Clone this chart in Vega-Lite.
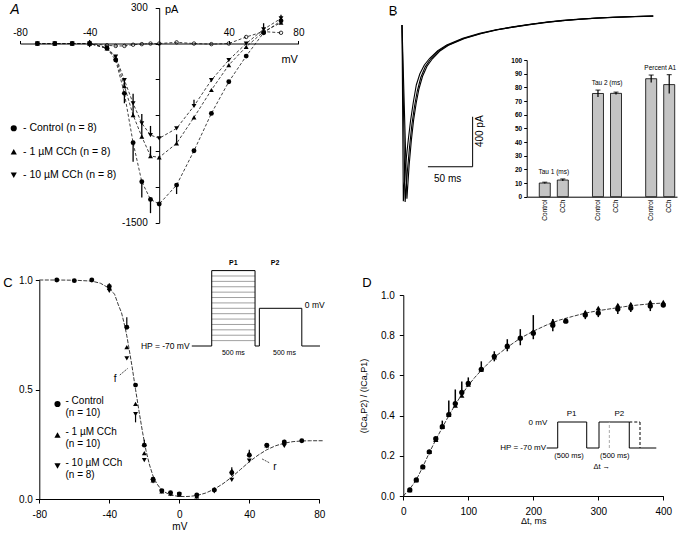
{
"$schema": "https://vega.github.io/schema/vega-lite/v6.json",
"width": 690, "height": 535, "padding": 0,
"autosize": {"type": "none"},
"background": "white",
"config": {
  "view": {"stroke": null},
  "font": "Liberation Sans",
  "axis": {"labelFont": "Liberation Sans", "titleFont": "Liberation Sans", "labelColor": "black", "titleColor": "black", "domainColor": "black", "tickColor": "black", "grid": false, "labelFontSize": 10, "titleFontSize": 10, "titleFontWeight": "normal", "labelFlush": false, "labelOverlap": false, "domainWidth": 1, "tickWidth": 1, "tickSize": 4, "labelPadding": 2},
  "legend": {"padding": 0, "labelFont": "Liberation Sans", "labelColor": "black", "labelFontSize": 10},
  "text": {"font": "Liberation Sans", "color": "black", "fontSize": 9}
},
"datasets": {
  "A": [
    {"s":"Control","mV":-70,"pA":0},{"s":"Control","mV":-60,"pA":0},{"s":"Control","mV":-50,"pA":0},{"s":"Control","mV":-40,"pA":0},{"s":"Control","mV":-30,"pA":-40},{"s":"Control","mV":-25,"pA":-138},{"s":"Control","mV":-20,"pA":-417},{"s":"Control","mV":-15,"pA":-830},{"s":"Control","mV":-10,"pA":-1157},{"s":"Control","mV":-5,"pA":-1305},{"s":"Control","mV":0,"pA":-1344},{"s":"Control","mV":10,"pA":-1185},{"s":"Control","mV":20,"pA":-898},{"s":"Control","mV":30,"pA":-585},{"s":"Control","mV":40,"pA":-320},{"s":"Control","mV":50,"pA":-105},{"s":"Control","mV":60,"pA":90},{"s":"Control","mV":70,"pA":190},
    {"s":"1 µM CCh","mV":-70,"pA":0},{"s":"1 µM CCh","mV":-60,"pA":0},{"s":"1 µM CCh","mV":-50,"pA":0},{"s":"1 µM CCh","mV":-40,"pA":0},{"s":"1 µM CCh","mV":-30,"pA":-40},{"s":"1 µM CCh","mV":-25,"pA":-120},{"s":"1 µM CCh","mV":-20,"pA":-356},{"s":"1 µM CCh","mV":-15,"pA":-599},{"s":"1 µM CCh","mV":-10,"pA":-780},{"s":"1 µM CCh","mV":-5,"pA":-942},{"s":"1 µM CCh","mV":0,"pA":-953},{"s":"1 µM CCh","mV":10,"pA":-836},{"s":"1 µM CCh","mV":20,"pA":-618},{"s":"1 µM CCh","mV":30,"pA":-389},{"s":"1 µM CCh","mV":40,"pA":-180},{"s":"1 µM CCh","mV":50,"pA":-27},{"s":"1 µM CCh","mV":60,"pA":99},{"s":"1 µM CCh","mV":70,"pA":175},
    {"s":"10 µM CCh","mV":-70,"pA":0},{"s":"10 µM CCh","mV":-60,"pA":0},{"s":"10 µM CCh","mV":-50,"pA":0},{"s":"10 µM CCh","mV":-40,"pA":0},{"s":"10 µM CCh","mV":-30,"pA":-35},{"s":"10 µM CCh","mV":-25,"pA":-110},{"s":"10 µM CCh","mV":-20,"pA":-306},{"s":"10 µM CCh","mV":-15,"pA":-501},{"s":"10 µM CCh","mV":-10,"pA":-668},{"s":"10 µM CCh","mV":-5,"pA":-766},{"s":"10 µM CCh","mV":0,"pA":-794},{"s":"10 µM CCh","mV":10,"pA":-710},{"s":"10 µM CCh","mV":20,"pA":-523},{"s":"10 µM CCh","mV":30,"pA":-306},{"s":"10 µM CCh","mV":40,"pA":-138},{"s":"10 µM CCh","mV":50,"pA":0},{"s":"10 µM CCh","mV":60,"pA":119},{"s":"10 µM CCh","mV":70,"pA":210}
  ],
  "Aopen": [
    {"mV":-40,"pA":0},{"mV":-30,"pA":-15},{"mV":-25,"pA":-20},{"mV":-20,"pA":-20},{"mV":-15,"pA":-10},{"mV":-10,"pA":-5},{"mV":-5,"pA":0},{"mV":0,"pA":0},{"mV":10,"pA":10},{"mV":20,"pA":0},{"mV":30,"pA":-5},{"mV":40,"pA":0},{"mV":50,"pA":55},{"mV":60,"pA":100},{"mV":70,"pA":90}
  ],
  "Aerr": [
    {"mV":-40,"lo":-30,"hi":30},{"mV":-20,"lo":-417,"hi":-500},{"mV":-15,"lo":-830,"hi":-990},{"mV":-10,"lo":-1157,"hi":-1290},{"mV":-5,"lo":-1305,"hi":-1420},{"mV":10,"lo":-1185,"hi":-1260},
    {"mV":-20,"lo":-356,"hi":-290},{"mV":-15,"lo":-599,"hi":-500},{"mV":-10,"lo":-780,"hi":-660},{"mV":-5,"lo":-942,"hi":-860},{"mV":10,"lo":-836,"hi":-760},
    {"mV":-15,"lo":-501,"hi":-420},{"mV":-10,"lo":-668,"hi":-590},{"mV":-5,"lo":-766,"hi":-690},{"mV":20,"lo":-523,"hi":-470},{"mV":60,"lo":119,"hi":170},{"mV":70,"lo":210,"hi":240}
  ],
  "Btr": [
    {"tr":"a","t":0,"I":-80},{"tr":"a","t":1.5,"I":-1490},{"tr":"a","t":4,"I":-1200},{"tr":"a","t":7,"I":-1000},{"tr":"a","t":9.5,"I":-850},{"tr":"a","t":12.6,"I":-700},{"tr":"a","t":16,"I":-560},{"tr":"a","t":20,"I":-470},{"tr":"a","t":25,"I":-400},{"tr":"a","t":31,"I":-346},{"tr":"a","t":40,"I":-285},{"tr":"a","t":50,"I":-240},{"tr":"a","t":68,"I":-186},{"tr":"a","t":87,"I":-146},{"tr":"a","t":105,"I":-118},{"tr":"a","t":124,"I":-94},{"tr":"a","t":143,"I":-74},{"tr":"a","t":162,"I":-56},{"tr":"a","t":180,"I":-43},{"tr":"a","t":199,"I":-32},{"tr":"a","t":218,"I":-24},{"tr":"a","t":236,"I":-18},{"tr":"a","t":260,"I":-12},{"tr":"a","t":281,"I":-8},
    {"tr":"b","t":0,"I":-80},{"tr":"b","t":3.5,"I":-1495},{"tr":"b","t":6,"I":-1250},{"tr":"b","t":8.5,"I":-1050},{"tr":"b","t":11,"I":-880},{"tr":"b","t":14,"I":-730},{"tr":"b","t":17,"I":-610},{"tr":"b","t":21,"I":-500},{"tr":"b","t":26,"I":-415},{"tr":"b","t":32,"I":-352},{"tr":"b","t":40,"I":-292},{"tr":"b","t":50,"I":-245},{"tr":"b","t":68,"I":-190},{"tr":"b","t":87,"I":-150},{"tr":"b","t":105,"I":-120},{"tr":"b","t":124,"I":-97},{"tr":"b","t":143,"I":-76},{"tr":"b","t":162,"I":-58},{"tr":"b","t":180,"I":-45},{"tr":"b","t":199,"I":-34},{"tr":"b","t":218,"I":-25},{"tr":"b","t":236,"I":-19},{"tr":"b","t":260,"I":-13},{"tr":"b","t":281,"I":-9},
    {"tr":"c","t":0,"I":-80},{"tr":"c","t":5.5,"I":-1470},{"tr":"c","t":8,"I":-1200},{"tr":"c","t":10.5,"I":-1000},{"tr":"c","t":13,"I":-840},{"tr":"c","t":16,"I":-700},{"tr":"c","t":19,"I":-590},{"tr":"c","t":23,"I":-490},{"tr":"c","t":28,"I":-410},{"tr":"c","t":34,"I":-350},{"tr":"c","t":42,"I":-290},{"tr":"c","t":52,"I":-242},{"tr":"c","t":70,"I":-188},{"tr":"c","t":89,"I":-148},{"tr":"c","t":107,"I":-118},{"tr":"c","t":126,"I":-95},{"tr":"c","t":145,"I":-75},{"tr":"c","t":164,"I":-57},{"tr":"c","t":182,"I":-44},{"tr":"c","t":201,"I":-33},{"tr":"c","t":220,"I":-24},{"tr":"c","t":238,"I":-18},{"tr":"c","t":262,"I":-12},{"tr":"c","t":281,"I":-8},
    {"tr":"base","t":-13,"I":0},{"tr":"base","t":-8,"I":0}
  ],
  "Bbar": [
    {"g":"Tau 1 (ms)","c":"Control","m":10,"lo":9.6,"hi":10.6},
    {"g":"Tau 1 (ms)","c":"CCh","m":12.2,"lo":11.5,"hi":13},
    {"g":"Tau 2 (ms)","c":"Control","m":75.5,"lo":73,"hi":78},
    {"g":"Tau 2 (ms)","c":"CCh","m":75.6,"lo":74.7,"hi":76.5},
    {"g":"Percent A1","c":"Control","m":86.3,"lo":83.5,"hi":89},
    {"g":"Percent A1","c":"CCh","m":82,"lo":75.5,"hi":89.3}
  ],
  "C": [
    {"s":"Control","mV":-70,"v":1.0},{"s":"Control","mV":-60,"v":0.997},{"s":"Control","mV":-50,"v":1.0},{"s":"Control","mV":-40,"v":0.97},{"s":"Control","mV":-30,"v":0.784},{"s":"Control","mV":-25,"v":0.52},{"s":"Control","mV":-20,"v":0.246},{"s":"Control","mV":-15,"v":0.09},{"s":"Control","mV":-10,"v":0.038},{"s":"Control","mV":-5,"v":0.029},{"s":"Control","mV":0,"v":0.023},{"s":"Control","mV":10,"v":0.018},{"s":"Control","mV":20,"v":0.041},{"s":"Control","mV":30,"v":0.12},{"s":"Control","mV":40,"v":0.2},{"s":"Control","mV":50,"v":0.246},{"s":"Control","mV":60,"v":0.26},{"s":"Control","mV":70,"v":0.266},
    {"s":"1 µM CCh","mV":-40,"v":0.965},{"s":"1 µM CCh","mV":-30,"v":0.693},{"s":"1 µM CCh","mV":-25,"v":0.434},{"s":"1 µM CCh","mV":-20,"v":0.21},{"s":"1 µM CCh","mV":-15,"v":0.085},{"s":"1 µM CCh","mV":-10,"v":0.035},{"s":"1 µM CCh","mV":-5,"v":0.025},{"s":"1 µM CCh","mV":0,"v":0.02},{"s":"1 µM CCh","mV":10,"v":0.012},{"s":"1 µM CCh","mV":20,"v":0.045},{"s":"1 µM CCh","mV":30,"v":0.13},{"s":"1 µM CCh","mV":40,"v":0.21},{"s":"1 µM CCh","mV":50,"v":0.245},{"s":"1 µM CCh","mV":60,"v":0.262},
    {"s":"10 µM CCh","mV":-40,"v":0.95},{"s":"10 µM CCh","mV":-30,"v":0.642},{"s":"10 µM CCh","mV":-25,"v":0.388},{"s":"10 µM CCh","mV":-20,"v":0.178},{"s":"10 µM CCh","mV":-15,"v":0.08},{"s":"10 µM CCh","mV":-10,"v":0.035},{"s":"10 µM CCh","mV":-5,"v":0.022},{"s":"10 µM CCh","mV":0,"v":0.02},{"s":"10 µM CCh","mV":10,"v":0.01},{"s":"10 µM CCh","mV":20,"v":0.035},{"s":"10 µM CCh","mV":30,"v":0.087},{"s":"10 µM CCh","mV":40,"v":0.175},{"s":"10 µM CCh","mV":50,"v":0.24},{"s":"10 µM CCh","mV":60,"v":0.242}
  ],
  "Cfit": [
    {"mV":-80,"v":1.0},{"mV":-70,"v":1.0},{"mV":-60,"v":0.999},{"mV":-50,"v":0.995},{"mV":-45,"v":0.985},{"mV":-40,"v":0.962},{"mV":-37,"v":0.935},{"mV":-35,"v":0.89},{"mV":-33,"v":0.85},{"mV":-31,"v":0.785},{"mV":-30,"v":0.745},{"mV":-29,"v":0.7},{"mV":-27,"v":0.605},{"mV":-25,"v":0.5},{"mV":-23,"v":0.4},{"mV":-21,"v":0.305},{"mV":-19,"v":0.22},{"mV":-17,"v":0.155},{"mV":-15,"v":0.105},{"mV":-13,"v":0.072},{"mV":-11,"v":0.05},{"mV":-9,"v":0.035},{"mV":-7,"v":0.026},{"mV":-5,"v":0.02},{"mV":-2,"v":0.014},{"mV":0,"v":0.012},{"mV":3,"v":0.011},{"mV":6,"v":0.012},{"mV":10,"v":0.016},{"mV":15,"v":0.027},{"mV":20,"v":0.045},{"mV":25,"v":0.07},{"mV":30,"v":0.1},{"mV":35,"v":0.135},{"mV":40,"v":0.17},{"mV":45,"v":0.2},{"mV":50,"v":0.225},{"mV":55,"v":0.243},{"mV":60,"v":0.255},{"mV":65,"v":0.262},{"mV":70,"v":0.265},{"mV":75,"v":0.266},{"mV":82,"v":0.266}
  ],
  "Cerr": [
    {"mV":-40,"lo":0.97,"hi":0.985},{"mV":-30,"lo":0.784,"hi":0.83},{"mV":-25,"lo":0.388,"hi":0.35},{"mV":-20,"lo":0.246,"hi":0.27},{"mV":30,"lo":0.105,"hi":0.145},{"mV":40,"lo":0.195,"hi":0.225},{"mV":60,"lo":0.242,"hi":0.255}
  ],
  "Cp": [
    {"k":"step","t1":0,"v1":-60,"t2":500,"v2":-60},{"k":"step","t1":0,"v1":-50,"t2":500,"v2":-50},{"k":"step","t1":0,"v1":-40,"t2":500,"v2":-40},{"k":"step","t1":0,"v1":-30,"t2":500,"v2":-30},{"k":"step","t1":0,"v1":-20,"t2":500,"v2":-20},{"k":"step","t1":0,"v1":-10,"t2":500,"v2":-10},{"k":"step","t1":0,"v1":0,"t2":500,"v2":0},{"k":"step","t1":0,"v1":10,"t2":500,"v2":10},{"k":"step","t1":0,"v1":20,"t2":500,"v2":20},{"k":"step","t1":0,"v1":30,"t2":500,"v2":30},{"k":"step","t1":0,"v1":40,"t2":500,"v2":40},{"k":"step","t1":0,"v1":50,"t2":500,"v2":50},{"k":"step","t1":0,"v1":60,"t2":500,"v2":60},
    {"k":"frame","t1":-230,"v1":-70,"t2":0,"v2":-70},{"k":"frame","t1":0,"v1":-70,"t2":0,"v2":70},{"k":"frame","t1":0,"v1":70,"t2":500,"v2":70},{"k":"frame","t1":500,"v1":70,"t2":500,"v2":-70},{"k":"frame","t1":500,"v1":-70,"t2":550,"v2":-70},{"k":"frame","t1":550,"v1":-70,"t2":550,"v2":0},{"k":"frame","t1":550,"v1":0,"t2":1040,"v2":0},{"k":"frame","t1":1040,"v1":0,"t2":1040,"v2":-70},{"k":"frame","t1":1040,"v1":-70,"t2":1250,"v2":-70}
  ],
  "D": [
    {"s":"Control","t":10,"v":0.03},{"s":"Control","t":20,"v":0.08},{"s":"Control","t":30,"v":0.145},{"s":"Control","t":40,"v":0.22},{"s":"Control","t":50,"v":0.285},{"s":"Control","t":60,"v":0.345},{"s":"Control","t":70,"v":0.405},{"s":"Control","t":80,"v":0.46},{"s":"Control","t":90,"v":0.515},{"s":"Control","t":100,"v":0.56},{"s":"Control","t":120,"v":0.63},{"s":"Control","t":140,"v":0.695},{"s":"Control","t":160,"v":0.745},{"s":"Control","t":180,"v":0.785},{"s":"Control","t":200,"v":0.81},{"s":"Control","t":230,"v":0.85},{"s":"Control","t":250,"v":0.87},{"s":"Control","t":280,"v":0.9},{"s":"Control","t":300,"v":0.91},{"s":"Control","t":330,"v":0.93},{"s":"Control","t":350,"v":0.935},{"s":"Control","t":380,"v":0.945},{"s":"Control","t":400,"v":0.95},
    {"s":"CCh","t":10,"v":0.03},{"s":"CCh","t":20,"v":0.08},{"s":"CCh","t":30,"v":0.145},{"s":"CCh","t":40,"v":0.22},{"s":"CCh","t":50,"v":0.28},{"s":"CCh","t":60,"v":0.345},{"s":"CCh","t":70,"v":0.405},{"s":"CCh","t":80,"v":0.45},{"s":"CCh","t":90,"v":0.5},{"s":"CCh","t":100,"v":0.555},{"s":"CCh","t":120,"v":0.63},{"s":"CCh","t":140,"v":0.69},{"s":"CCh","t":160,"v":0.745},{"s":"CCh","t":180,"v":0.79},{"s":"CCh","t":200,"v":0.82},{"s":"CCh","t":230,"v":0.87},{"s":"CCh","t":250,"v":0.875},{"s":"CCh","t":280,"v":0.915},{"s":"CCh","t":300,"v":0.935},{"s":"CCh","t":330,"v":0.95},{"s":"CCh","t":350,"v":0.955},{"s":"CCh","t":380,"v":0.965},{"s":"CCh","t":400,"v":0.965}
  ],
  "Dfit": [
    {"t":0,"v":0},{"t":10,"v":0.035},{"t":20,"v":0.08},{"t":30,"v":0.145},{"t":40,"v":0.215},{"t":50,"v":0.28},{"t":60,"v":0.34},{"t":70,"v":0.4},{"t":80,"v":0.455},{"t":90,"v":0.505},{"t":100,"v":0.55},{"t":110,"v":0.59},{"t":120,"v":0.625},{"t":140,"v":0.69},{"t":160,"v":0.74},{"t":180,"v":0.785},{"t":200,"v":0.82},{"t":220,"v":0.85},{"t":240,"v":0.875},{"t":260,"v":0.893},{"t":280,"v":0.91},{"t":300,"v":0.922},{"t":320,"v":0.932},{"t":340,"v":0.942},{"t":360,"v":0.95},{"t":380,"v":0.956},{"t":400,"v":0.96}
  ],
  "Derr": [
    {"t":60,"lo":0.345,"hi":0.375},{"t":70,"lo":0.405,"hi":0.475},{"t":80,"lo":0.46,"hi":0.53},{"t":90,"lo":0.515,"hi":0.57},{"t":100,"lo":0.56,"hi":0.59},{"t":120,"lo":0.63,"hi":0.67},{"t":140,"lo":0.67,"hi":0.72},{"t":160,"lo":0.72,"hi":0.78},{"t":180,"lo":0.75,"hi":0.83},{"t":200,"lo":0.78,"hi":0.9},{"t":230,"lo":0.82,"hi":0.88},{"t":280,"lo":0.88,"hi":0.92},{"t":300,"lo":0.89,"hi":0.935},{"t":330,"lo":0.905,"hi":0.955},{"t":350,"lo":0.915,"hi":0.96},{"t":380,"lo":0.92,"hi":0.97}
  ],
  "Dp": [
    {"k":"frame","t1":-190,"v1":-70,"t2":0,"v2":-70},{"k":"frame","t1":0,"v1":-70,"t2":0,"v2":0},{"k":"frame","t1":0,"v1":0,"t2":500,"v2":0},{"k":"frame","t1":500,"v1":0,"t2":500,"v2":-70},{"k":"frame","t1":500,"v1":-70,"t2":712,"v2":-70},{"k":"frame","t1":712,"v1":-70,"t2":712,"v2":0},{"k":"frame","t1":712,"v1":0,"t2":1234,"v2":0},{"k":"frame","t1":1234,"v1":0,"t2":1234,"v2":-70},{"k":"frame","t1":1234,"v1":-70,"t2":1700,"v2":-70},
    {"k":"dash","t1":1234,"v1":0,"t2":1419,"v2":0},{"k":"dash","t1":1419,"v1":0,"t2":1419,"v2":-70},
    {"k":"gray","t1":890,"v1":-70,"t2":890,"v2":0}
  ]
},
"resolve": {
  "scale": {"x": "independent", "y": "independent", "shape": "independent"},
  "axis": {"x": "independent", "y": "independent"},
  "legend": {"shape": "independent"}
},
"layer": [
  {
    "layer": [
      {"data": {"name": "A"},
       "mark": {"type": "line", "color": "#111", "strokeWidth": 0.8, "strokeDash": [3, 2]},
       "encoding": {
         "x": {"field": "mV", "type": "quantitative", "scale": {"domain": [-80, 80], "range": [20, 298.4], "nice": false, "zero": false},
               "axis": {"orient": "top", "offset": -43.5, "values": [-80, -40, 40, 80], "title": null, "tickSize": 3, "labelPadding": 3, "labelExpr": "replace(datum.label, '\u2212', '-')"}},
         "y": {"field": "pA", "type": "quantitative", "scale": {"domain": [-1500, 300], "range": [222.7, 7.7], "nice": false, "zero": false},
               "axis": {"orient": "left", "offset": -159.2, "values": [-1500, -1200, -900, -600, -300, 0, 300], "title": null, "tickSize": 4, "labelPadding": 8, "labelExpr": "datum.value == 300 ? '300' : (datum.value == -1500 ? '-1500' : '')"}},
         "detail": {"field": "s"}
       }},
      {"data": {"name": "Aopen"},
       "mark": {"type": "line", "color": "#111", "strokeWidth": 0.8, "strokeDash": [3, 2]},
       "encoding": {"x": {"field": "mV", "type": "quantitative"}, "y": {"field": "pA", "type": "quantitative"}}},
      {"data": {"name": "Aerr"},
       "mark": {"type": "rule", "color": "black", "strokeWidth": 1.3},
       "encoding": {"x": {"field": "mV", "type": "quantitative"}, "y": {"field": "lo", "type": "quantitative"}, "y2": {"field": "hi"}}},
      {"data": {"name": "Aopen"},
       "mark": {"type": "point", "shape": "circle", "filled": false, "stroke": "black", "strokeWidth": 0.8, "size": 12, "opacity": 1},
       "encoding": {"x": {"field": "mV", "type": "quantitative"}, "y": {"field": "pA", "type": "quantitative"}}},
      {"data": {"name": "A"},
       "mark": {"type": "point", "filled": true, "color": "black", "size": 24, "opacity": 1},
       "encoding": {
         "x": {"field": "mV", "type": "quantitative"},
         "y": {"field": "pA", "type": "quantitative"},
         "shape": {"field": "s", "type": "nominal", "scale": {"domain": ["Control", "1 µM CCh", "10 µM CCh"], "range": ["circle", "triangle-up", "triangle-down"]},
                   "legend": {"orient": "none", "legendX": 8.5, "legendY": 123, "title": null, "labelExpr": "'- ' + datum.label + ' (n = 8)'", "symbolSize": 38, "rowPadding": 12.5, "labelOffset": 4, "symbolFillColor": "black", "symbolStrokeColor": "black", "symbolStrokeWidth": 0, "labelFontSize": 10.5}}
       }},
      {"data": {"values": [{}]}, "mark": {"type": "text", "text": "A", "fontSize": 14, "fontStyle": "italic", "align": "center", "baseline": "middle"},
       "encoding": {"x": {"datum": -82.9}, "y": {"datum": 280}}},
      {"data": {"values": [{}]}, "mark": {"type": "text", "text": "pA", "fontSize": 11, "align": "left", "baseline": "middle"},
       "encoding": {"x": {"datum": 3.3}, "y": {"datum": 282}}},
      {"data": {"values": [{}]}, "mark": {"type": "text", "text": "mV", "fontSize": 11, "align": "center", "baseline": "middle"},
       "encoding": {"x": {"datum": 75}, "y": {"datum": -138}}}
    ]
  },
  {
    "layer": [
      {"data": {"name": "Btr"},
       "mark": {"type": "line", "color": "black", "strokeWidth": 1.1},
       "encoding": {
         "x": {"field": "t", "type": "quantitative", "scale": {"domain": [0, 300], "range": [402, 670.2], "nice": false, "zero": false}, "axis": null},
         "y": {"field": "I", "type": "quantitative", "scale": {"domain": [-1500, 0], "range": [202.5, 15], "nice": false, "zero": false}, "axis": null},
         "detail": {"field": "tr"}
       }},
      {"data": {"values": [{}]}, "mark": {"type": "rule", "color": "black", "strokeWidth": 1},
       "encoding": {"x": {"datum": 29, "axis": null}, "x2": {"datum": 79}, "y": {"datum": -1214, "axis": null}}},
      {"data": {"values": [{}]}, "mark": {"type": "rule", "color": "black", "strokeWidth": 1},
       "encoding": {"x": {"datum": 79, "axis": null}, "y": {"datum": -1214, "axis": null}, "y2": {"datum": -814}}},
      {"data": {"values": [{}]}, "mark": {"type": "text", "text": "50 ms", "fontSize": 10, "align": "center", "baseline": "middle"},
       "encoding": {"x": {"datum": 51, "axis": null}, "y": {"datum": -1310, "axis": null}}},
      {"data": {"values": [{}]}, "mark": {"type": "text", "text": "400 pA", "fontSize": 10, "align": "center", "baseline": "middle", "angle": 270},
       "encoding": {"x": {"datum": 87, "axis": null}, "y": {"datum": -930, "axis": null}}},
      {"data": {"values": [{}]}, "mark": {"type": "text", "text": "B", "fontSize": 13, "align": "center", "baseline": "middle"},
       "encoding": {"x": {"datum": -10, "axis": null}, "y": {"datum": 30, "axis": null}}}
    ]
  },
  {
    "layer": [
      {"data": {"name": "Bbar"},
       "mark": {"type": "bar", "width": 11, "fill": "#c4c4c4", "stroke": "black", "strokeWidth": 0.8},
       "encoding": {
         "x": {"field": "g", "type": "nominal", "sort": ["Tau 1 (ms)", "Tau 2 (ms)", "Percent A1"],
               "scale": {"domain": ["Tau 1 (ms)", "Tau 2 (ms)", "Percent A1"], "range": [526.7, 677], "paddingInner": 0.4, "paddingOuter": 0.1125, "align": 0.93},
               "axis": {"orient": "bottom", "offset": -338.3, "labels": false, "ticks": false, "title": null, "domain": true}},
         "xOffset": {"field": "c", "type": "nominal", "scale": {"domain": ["Control", "CCh"], "paddingInner": 0.23, "paddingOuter": 0}},
         "y": {"field": "m", "type": "quantitative", "scale": {"domain": [0, 100], "range": [196.7, 60], "nice": false, "zero": false},
               "axis": {"orient": "left", "offset": -526.7, "values": [0, 10, 20, 30, 40, 50, 60, 70, 80, 90, 100], "title": null, "labelFontSize": 6.5, "labelFontWeight": "bold", "tickSize": 3}}
       }},
      {"data": {"name": "Bbar"},
       "mark": {"type": "rule", "color": "black", "strokeWidth": 1.2},
       "encoding": {"x": {"field": "g", "type": "nominal"}, "xOffset": {"field": "c", "type": "nominal"}, "y": {"field": "lo", "type": "quantitative"}, "y2": {"field": "hi"}}},
      {"data": {"name": "Bbar"},
       "mark": {"type": "tick", "color": "black", "size": 5, "thickness": 1.2},
       "encoding": {"x": {"field": "g", "type": "nominal"}, "xOffset": {"field": "c", "type": "nominal"}, "y": {"field": "hi", "type": "quantitative"}}},
      {"data": {"name": "Bbar"},
       "mark": {"type": "text", "angle": 270, "align": "right", "baseline": "middle", "dx": -3, "fontSize": 6.5},
       "encoding": {"x": {"field": "g", "type": "nominal"}, "xOffset": {"field": "c", "type": "nominal"}, "y": {"datum": 0}, "text": {"field": "c"}}},
      {"data": {"name": "Bbar"},
       "transform": [{"aggregate": [{"op": "max", "field": "hi", "as": "top"}], "groupby": ["g"]}],
       "mark": {"type": "text", "baseline": "bottom", "align": "center", "dy": -4, "fontSize": 6.5},
       "encoding": {"x": {"field": "g", "type": "nominal"}, "y": {"field": "top", "type": "quantitative"}, "text": {"field": "g"}}}
    ]
  },
  {
    "layer": [
      {"data": {"name": "Cfit"},
       "mark": {"type": "line", "color": "#222", "strokeWidth": 0.9, "strokeDash": [4, 1.5]},
       "encoding": {
         "x": {"field": "mV", "type": "quantitative", "scale": {"domain": [-80, 80], "range": [39.3, 319.3], "nice": false, "zero": false},
               "axis": {"orient": "bottom", "offset": -36, "values": [-80, -40, 0, 40, 80], "title": "mV", "titlePadding": 2, "labelPadding": 6, "tickSize": 4, "labelExpr": "replace(datum.label, '\u2212', '-')"}},
         "y": {"field": "v", "type": "quantitative", "scale": {"domain": [0, 1], "range": [499, 280], "nice": false, "zero": false},
               "axis": {"orient": "left", "offset": -39.3, "values": [0, 0.5, 1], "format": ".1f", "title": null, "tickSize": 4, "labelPadding": 3}}
       }},
      {"data": {"name": "Cerr"},
       "mark": {"type": "rule", "color": "black", "strokeWidth": 1.2},
       "encoding": {"x": {"field": "mV", "type": "quantitative"}, "y": {"field": "lo", "type": "quantitative"}, "y2": {"field": "hi"}}},
      {"data": {"name": "C"},
       "mark": {"type": "point", "filled": true, "color": "black", "size": 24, "opacity": 1},
       "encoding": {
         "x": {"field": "mV", "type": "quantitative"},
         "y": {"field": "v", "type": "quantitative"},
         "shape": {"field": "s", "type": "nominal", "scale": {"domain": ["Control", "1 µM CCh", "10 µM CCh"], "range": ["circle", "triangle-up", "triangle-down"]},
                   "legend": {"orient": "none", "legendX": 52.5, "legendY": 399, "title": null,
                              "labelExpr": "datum.label == 'Control' ? ['- Control', '\u00a0\u00a0\u00a0\u00a0(n = 10)'] : (datum.label == '1 µM CCh' ? ['- 1 µM CCh', '\u00a0\u00a0\u00a0\u00a0(n = 10)'] : ['- 10 µM CCh', '\u00a0\u00a0\u00a0\u00a0(n = 8)'])",
                              "symbolSize": 38, "rowPadding": 9, "labelOffset": 3, "symbolFillColor": "black", "symbolStrokeColor": "black", "symbolStrokeWidth": 0, "labelFontSize": 10, "labelBaseline": "alphabetic"}}
       }},
      {"data": {"values": [{}]}, "mark": {"type": "text", "text": "C", "fontSize": 13, "align": "center", "baseline": "middle"},
       "encoding": {"x": {"datum": -97.9}, "y": {"datum": 0.986}}},
      {"data": {"values": [{}]}, "mark": {"type": "text", "text": "f", "fontSize": 10, "align": "center", "baseline": "middle"},
       "encoding": {"x": {"datum": -36.7}, "y": {"datum": 0.55}}},
      {"data": {"values": [{}]}, "mark": {"type": "rule", "color": "black", "strokeWidth": 0.7, "strokeDash": [2, 1]},
       "encoding": {"x": {"datum": -34}, "x2": {"datum": -29.5}, "y": {"datum": 0.566}, "y2": {"datum": 0.596}}},
      {"data": {"values": [{}]}, "mark": {"type": "text", "text": "r", "fontSize": 10, "align": "center", "baseline": "middle"},
       "encoding": {"x": {"datum": 54.7}, "y": {"datum": 0.146}}},
      {"data": {"values": [{}]}, "mark": {"type": "rule", "color": "black", "strokeWidth": 0.7, "strokeDash": [2, 1]},
       "encoding": {"x": {"datum": 47.3}, "x2": {"datum": 51.8}, "y": {"datum": 0.183}, "y2": {"datum": 0.164}}}
    ]
  },
  {
    "layer": [
      {"data": {"name": "Cp"}, "transform": [{"filter": "datum.k == 'step'"}],
       "mark": {"type": "rule", "color": "#888", "strokeWidth": 0.8},
       "encoding": {
         "x": {"field": "t1", "type": "quantitative", "scale": {"domain": [-230, 1250], "range": [191.8, 320], "nice": false, "zero": false}, "axis": null},
         "x2": {"field": "t2"},
         "y": {"field": "v1", "type": "quantitative", "scale": {"domain": [-70, 70], "range": [346, 270.6], "nice": false, "zero": false}, "axis": null},
         "y2": {"field": "v2"}
       }},
      {"data": {"name": "Cp"}, "transform": [{"filter": "datum.k == 'frame'"}],
       "mark": {"type": "rule", "color": "black", "strokeWidth": 1},
       "encoding": {"x": {"field": "t1", "type": "quantitative", "axis": null}, "x2": {"field": "t2"}, "y": {"field": "v1", "type": "quantitative", "axis": null}, "y2": {"field": "v2"}}},
      {"data": {"values": [{}]}, "mark": {"type": "text", "text": "HP = -70 mV", "fontSize": 8.5, "align": "right", "baseline": "middle"},
       "encoding": {"x": {"datum": -255, "axis": null}, "y": {"datum": -70, "axis": null}}},
      {"data": {"values": [{}]}, "mark": {"type": "text", "text": "0 mV", "fontSize": 8.5, "align": "left", "baseline": "middle"},
       "encoding": {"x": {"datum": 1075, "axis": null}, "y": {"datum": 6, "axis": null}}},
      {"data": {"values": [{}]}, "mark": {"type": "text", "text": "500 ms", "fontSize": 7, "align": "center", "baseline": "middle"},
       "encoding": {"x": {"datum": 250, "axis": null}, "y": {"datum": -83, "axis": null}}},
      {"data": {"values": [{}]}, "mark": {"type": "text", "text": "500 ms", "fontSize": 7, "align": "center", "baseline": "middle"},
       "encoding": {"x": {"datum": 840, "axis": null}, "y": {"datum": -83, "axis": null}}},
      {"data": {"values": [{}]}, "mark": {"type": "text", "text": "P1", "fontSize": 7, "fontWeight": "bold", "align": "center", "baseline": "middle"},
       "encoding": {"x": {"datum": 250, "axis": null}, "y": {"datum": 85, "axis": null}}},
      {"data": {"values": [{}]}, "mark": {"type": "text", "text": "P2", "fontSize": 7, "fontWeight": "bold", "align": "center", "baseline": "middle"},
       "encoding": {"x": {"datum": 731, "axis": null}, "y": {"datum": 85, "axis": null}}}
    ]
  },
  {
    "layer": [
      {"data": {"name": "Dfit"},
       "mark": {"type": "line", "color": "#222", "strokeWidth": 0.9, "strokeDash": [4, 1.5]},
       "encoding": {
         "x": {"field": "t", "type": "quantitative", "scale": {"domain": [0, 400], "range": [403.3, 663.3], "nice": false, "zero": false},
               "axis": {"orient": "bottom", "offset": -39, "values": [0, 100, 200, 300, 400], "title": "Δt, ms", "titlePadding": 0, "labelPadding": 6, "tickSize": 4, "labelFontSize": 10, "titleFontSize": 9}},
         "y": {"field": "v", "type": "quantitative", "scale": {"domain": [0, 1], "range": [496, 295], "nice": false, "zero": false},
               "axis": {"orient": "left", "offset": -403.3, "values": [0, 0.2, 0.4, 0.6, 0.8, 1], "format": ".1f", "title": "(ICa,P2) / (ICa,P1)", "titlePadding": 12, "labelPadding": 5, "titleFontSize": 9, "tickSize": 4}}
       }},
      {"data": {"name": "Derr"},
       "mark": {"type": "rule", "color": "black", "strokeWidth": 1.5},
       "encoding": {"x": {"field": "t", "type": "quantitative"}, "y": {"field": "lo", "type": "quantitative"}, "y2": {"field": "hi"}}},
      {"data": {"name": "D"},
       "mark": {"type": "point", "filled": true, "color": "black", "size": 28, "opacity": 1},
       "encoding": {
         "x": {"field": "t", "type": "quantitative"},
         "y": {"field": "v", "type": "quantitative"},
         "shape": {"field": "s", "type": "nominal", "scale": {"domain": ["Control", "CCh"], "range": ["circle", "triangle-up"]}, "legend": null}
       }},
      {"data": {"values": [{}]}, "mark": {"type": "text", "text": "D", "fontSize": 13, "align": "center", "baseline": "middle"},
       "encoding": {"x": {"datum": -55.8}, "y": {"datum": 1.06}}}
    ]
  },
  {
    "layer": [
      {"data": {"name": "Dp"}, "transform": [{"filter": "datum.k == 'frame'"}],
       "mark": {"type": "rule", "color": "black", "strokeWidth": 1},
       "encoding": {
         "x": {"field": "t1", "type": "quantitative", "scale": {"domain": [-190, 1700], "range": [546.7, 656.3], "nice": false, "zero": false}, "axis": null},
         "x2": {"field": "t2"},
         "y": {"field": "v1", "type": "quantitative", "scale": {"domain": [-70, 0], "range": [448, 422], "nice": false, "zero": false}, "axis": null},
         "y2": {"field": "v2"}
       }},
      {"data": {"name": "Dp"}, "transform": [{"filter": "datum.k == 'dash'"}],
       "mark": {"type": "rule", "color": "black", "strokeWidth": 1, "strokeDash": [3, 2]},
       "encoding": {"x": {"field": "t1", "type": "quantitative", "axis": null}, "x2": {"field": "t2"}, "y": {"field": "v1", "type": "quantitative", "axis": null}, "y2": {"field": "v2"}}},
      {"data": {"name": "Dp"}, "transform": [{"filter": "datum.k == 'gray'"}],
       "mark": {"type": "rule", "color": "#aaa", "strokeWidth": 1, "strokeDash": [3, 2]},
       "encoding": {"x": {"field": "t1", "type": "quantitative", "axis": null}, "x2": {"field": "t2"}, "y": {"field": "v1", "type": "quantitative", "axis": null}, "y2": {"field": "v2"}}},
      {"data": {"values": [{}]}, "mark": {"type": "text", "text": "0 mV", "fontSize": 8, "align": "right", "baseline": "middle"},
       "encoding": {"x": {"datum": -180, "axis": null}, "y": {"datum": -2, "axis": null}}},
      {"data": {"values": [{}]}, "mark": {"type": "text", "text": "HP = -70 mV", "fontSize": 8, "align": "right", "baseline": "middle"},
       "encoding": {"x": {"datum": -200, "axis": null}, "y": {"datum": -70, "axis": null}}},
      {"data": {"values": [{}]}, "mark": {"type": "text", "text": "P1", "fontSize": 8, "align": "center", "baseline": "middle"},
       "encoding": {"x": {"datum": 240, "axis": null}, "y": {"datum": 22, "axis": null}}},
      {"data": {"values": [{}]}, "mark": {"type": "text", "text": "P2", "fontSize": 8, "align": "center", "baseline": "middle"},
       "encoding": {"x": {"datum": 1062, "axis": null}, "y": {"datum": 22, "axis": null}}},
      {"data": {"values": [{}]}, "mark": {"type": "text", "text": "(500 ms)", "fontSize": 7.5, "align": "center", "baseline": "middle"},
       "encoding": {"x": {"datum": 195, "axis": null}, "y": {"datum": -91, "axis": null}}},
      {"data": {"values": [{}]}, "mark": {"type": "text", "text": "(500 ms)", "fontSize": 7.5, "align": "center", "baseline": "middle"},
       "encoding": {"x": {"datum": 984, "axis": null}, "y": {"datum": -91, "axis": null}}},
      {"data": {"values": [{}]}, "mark": {"type": "text", "text": "Δt →", "fontSize": 7.5, "align": "center", "baseline": "middle"},
       "encoding": {"x": {"datum": 760, "axis": null}, "y": {"datum": -121, "axis": null}}}
    ]
  }
]
}
